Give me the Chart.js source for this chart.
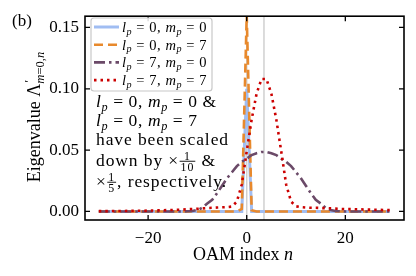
<!DOCTYPE html>
<html>
<head>
<meta charset="utf-8">
<script src="https://cdn.jsdelivr.net/npm/chart.js@4.4.0/dist/chart.umd.min.js"></script>
<style>
    html, body { margin: 0; padding: 0; background: #fff; }
</style>
</head>
<body>
<canvas id="chartId" width="416" height="276"></canvas>
<script>
// OAM index n
const oamIndex = [
    -30, -29, -28, -27, -26, -25, -24, -23, -22, -21,
    -20, -19, -18, -17, -16, -15, -14, -13, -12, -11,
    -10, -9, -8, -7, -6, -5, -4, -3, -2, -1,
    0, 1, 2, 3, 4, 5, 6, 7, 8, 9,
    10, 11, 12, 13, 14, 15, 16, 17, 18, 19,
    20, 21, 22, 23, 24, 25, 26, 27, 28, 29
];

// l_p = 0, m_p = 0 (scaled by 1/10)
const l0m0 = [
    0, 0, 0, 0, 0, 0, 0, 0, 0, 0,
    0, 0, 0, 0, 0, 0, 0, 0, 0, 0,
    0, 0, 0, 0, 0, 0, 0, 0, 0, 0,
    0.100, 0, 0, 0, 0, 0, 0, 0, 0, 0,
    0, 0, 0, 0, 0, 0, 0, 0, 0, 0,
    0, 0, 0, 0, 0, 0, 0, 0, 0, 0
];

// l_p = 0, m_p = 7 (scaled by 1/5)
const l0m7 = [
    0, 0, 0, 0, 0, 0, 0, 0, 0, 0,
    0, 0, 0, 0, 0, 0, 0, 0, 0, 0,
    0, 0, 0, 0, 0, 0, 0, 0, 0, 0.002,
    0.160, 0.001, 0, 0, 0, 0, 0, 0, 0, 0,
    0, 0, 0, 0, 0, 0, 0, 0, 0, 0,
    0, 0, 0, 0, 0, 0, 0, 0, 0, 0
];

// l_p = 7, m_p = 0
const l7m0 = [
    0, 0, 0, 0, 0, 0, 0, 0, 0, 0,
    0, 0, 0, 0, 0, 0, 0, 0, 0.0002, 0.0004,
    0.0012, 0.003, 0.0065, 0.0095, 0.015, 0.021, 0.027, 0.032, 0.037, 0.0405,
    0.043, 0.046, 0.0475, 0.0485, 0.0485, 0.0475, 0.046, 0.043, 0.0405, 0.037,
    0.032, 0.027, 0.021, 0.015, 0.0095, 0.0065, 0.003, 0.0012, 0.0004, 0.0002,
    0, 0, 0, 0, 0, 0, 0, 0, 0, 0
];

// l_p = 7, m_p = 7
const l7m7 = [
    0.0003, 0.0003, 0.0003, 0.0004, 0.0004, 0.0004, 0.0005, 0.0005, 0.0006, 0.0006,
    0.0007, 0.0008, 0.0009, 0.001, 0.0011, 0.0012, 0.0014, 0.0016, 0.0018, 0.002,
    0.0022, 0.0025, 0.0028, 0.003, 0.0032, 0.0034, 0.0035, 0.004, 0.008, 0.022,
    0.049, 0.075, 0.096, 0.108, 0.108, 0.096, 0.075, 0.049, 0.022, 0.008,
    0.0042, 0.0035, 0.0032, 0.003, 0.003, 0.0028, 0.0027, 0.0025, 0.0023, 0.0021,
    0.002, 0.0019, 0.0018, 0.0017, 0.0016, 0.0015, 0.0014, 0.0013, 0.0012, 0.0011
];

const xTicks = [-20, 0, 20];
const yTicks = [0, 0.05, 0.10, 0.15];
const markerLines = [0, 3.5];

const SERIF = '"Liberation Serif", "DejaVu Serif", serif';

const seriesStyles = [
    { data: l0m0, color: '#a0bdf2', width: 3, dash: [] },
    { data: l0m7, color: '#e8892c', width: 2.6, dash: [9, 5] },
    { data: l7m0, color: '#6b4a68', width: 2.6, dash: [11, 4, 2.5, 4] },
    { data: l7m7, color: '#cc0000', width: 2.6, dash: [2.5, 4] }
];

// Draw a run of text with italic letters, subscripts and small fractions
function drawRich(ctx, parts, x, y, size, spacing) {
    let cx = x;
    ctx.letterSpacing = (spacing || 0) + 'px';
    for (const [t, k] of parts) {
        if (k === 'frac') {
            const [num, den] = t.split('/');
            const fs = size * 0.68;
            ctx.font = `${fs}px ${SERIF}`;
            const w = Math.max(ctx.measureText(num).width, ctx.measureText(den).width) + 2;
            const axis = y - size * 0.27;
            ctx.textAlign = 'center';
            ctx.fillText(num, cx + w / 2 + 0.5, axis - 1.5);
            ctx.fillText(den, cx + w / 2 + 0.5, axis + fs * 0.72 + 1);
            ctx.fillRect(cx + 0.5, axis - 0.5, w, 0.9);
            ctx.textAlign = 'left';
            cx += w + 1.5;
        } else if (k === 'sup') {
            ctx.font = `${size * 0.75}px ${SERIF}`;
            ctx.fillText(t, cx + 1, y - size * 0.38);
        } else {
            const sub = k === 'sub' || k === 'subr';
            const italic = k === 'i' || k === 'sub';
            const fs = sub ? size * 0.7 : size;
            ctx.font = `${italic ? 'italic ' : ''}${fs}px ${SERIF}`;
            ctx.fillText(t, cx, sub ? y + size * 0.2 : y);
            cx += ctx.measureText(t).width;
        }
    }
    ctx.letterSpacing = '0px';
    return cx - x;
}

function lpmp(l, m, tail) {
    return [['l', 'i'], ['p', 'sub'], [' = ' + l + ', ', 'r'], ['m', 'i'], ['p', 'sub'], [' = ' + m + (tail || ''), 'r']];
}

const decorPlugin = {
    id: 'decor',
    beforeDatasetsDraw(chart) {
        const { ctx, chartArea: a, scales: { x } } = chart;
        ctx.save();
        ctx.strokeStyle = '#d0d0d0';
        ctx.lineWidth = 1.5;
        markerLines.forEach(v => {
            const px = x.getPixelForValue(v);
            ctx.beginPath();
            ctx.moveTo(px, a.top);
            ctx.lineTo(px, a.bottom);
            ctx.stroke();
        });
        ctx.restore();
    },
    afterDraw(chart) {
        const { ctx, chartArea: a, scales: { x, y } } = chart;
        ctx.save();

        // frame and inward ticks
        ctx.strokeStyle = '#000';
        ctx.lineWidth = 1.6;
        ctx.strokeRect(a.left, a.top, a.right - a.left, a.bottom - a.top);
        ctx.lineWidth = 1.3;
        ctx.beginPath();
        xTicks.forEach(v => {
            const px = x.getPixelForValue(v);
            ctx.moveTo(px, a.bottom); ctx.lineTo(px, a.bottom - 5);
            ctx.moveTo(px, a.top); ctx.lineTo(px, a.top + 5);
        });
        yTicks.forEach(v => {
            const py = y.getPixelForValue(v);
            ctx.moveTo(a.left, py); ctx.lineTo(a.left + 5, py);
            ctx.moveTo(a.right, py); ctx.lineTo(a.right - 5, py);
        });
        ctx.stroke();

        ctx.fillStyle = '#000';
        ctx.textBaseline = 'alphabetic';
        ctx.textAlign = 'left';

        // panel tag
        ctx.font = `17px ${SERIF}`;
        ctx.fillText('(b)', 12, 26);

        // x-axis title
        const xt = [['OAM index ', 'r'], ['n', 'i']];
        ctx.globalAlpha = 0;
        const xw = drawRich(ctx, xt, 0, 0, 18);
        ctx.globalAlpha = 1;
        drawRich(ctx, xt, 243 - xw / 2, 260, 18);

        // y-axis title
        const yt = [['Eigenvalue Λ', 'r'], ['′', 'sup'], ['m', 'sub'], ['=0,', 'subr'], ['n', 'sub']];
        ctx.globalAlpha = 0;
        const yw = drawRich(ctx, yt, 0, 0, 18);
        ctx.globalAlpha = 1;
        ctx.save();
        ctx.translate(40, 117);
        ctx.rotate(-Math.PI / 2);
        drawRich(ctx, yt, -yw / 2, 0, 18);
        ctx.restore();

        // legend box
        const lx = 91, ly = 18, lw = 121, lh = 73;
        ctx.fillStyle = 'rgba(255,255,255,0.85)';
        ctx.strokeStyle = '#c8c8c8';
        ctx.lineWidth = 1.2;
        ctx.beginPath();
        ctx.roundRect(lx, ly, lw, lh, 3);
        ctx.fill();
        ctx.stroke();
        const labels = [lpmp(0, 0), lpmp(0, 7), lpmp(7, 0), lpmp(7, 7)];
        labels.forEach((parts, i) => {
            const rowY = 27 + i * 17.7;
            const s = seriesStyles[i];
            ctx.strokeStyle = s.color;
            ctx.lineWidth = s.width;
            ctx.setLineDash(s.dash);
            ctx.beginPath();
            ctx.moveTo(94, rowY);
            ctx.lineTo(119, rowY);
            ctx.stroke();
            ctx.setLineDash([]);
            ctx.fillStyle = '#000';
            drawRich(ctx, parts, 122, rowY + 4.8, 14.5, 0.55);
        });

        // note about scaling
        ctx.fillStyle = '#000';
        const note = [
            lpmp(0, 0, ' &'),
            lpmp(0, 7),
            [['have been scaled', 'r']],
            [['down by ×', 'r'], ['1/10', 'frac'], [' &', 'r']],
            [['×', 'r'], ['1/5', 'frac'], [', respectively.', 'r']]
        ];
        const noteY = [107, 126, 145, 166, 187];
        note.forEach((parts, i) => drawRich(ctx, parts, 96, noteY[i], 17.5, i < 2 ? 0.6 : 0.9));

        ctx.restore();
    }
};

const tickFont = { family: SERIF, size: 17 };

new Chart(document.getElementById('chartId').getContext('2d'), {
    type: 'line',
    data: {
        datasets: seriesStyles.map((s, i) => ({
            data: oamIndex.map((n, k) => ({ x: n, y: s.data[k] })),
            borderColor: s.color,
            borderWidth: s.width,
            borderDash: s.dash,
            pointRadius: 0,
            tension: 0,
            fill: false,
            order: 3 - i
        }))
    },
    options: {
        responsive: false,
        animation: false,
        events: [],
        layout: { padding: { top: 12, right: 12, left: 0, bottom: 0 } },
        plugins: {
            legend: { display: false },
            tooltip: { enabled: false }
        },
        scales: {
            x: {
                type: 'linear',
                min: -32.8,
                max: 31.9,
                grid: { display: false, drawTicks: false },
                border: { display: false },
                afterFit: scale => { scale.height = 56; },
                afterBuildTicks: scale => { scale.ticks = xTicks.map(v => ({ value: v })); },
                ticks: {
                    font: tickFont,
                    color: '#000',
                    padding: 8,
                    maxRotation: 0,
                    autoSkip: false,
                    callback: v => (v < 0 ? '\u2212' + Math.abs(v) : String(v))
                }
            },
            y: {
                type: 'linear',
                min: -0.00695,
                max: 0.15918,
                grid: { display: false, drawTicks: false },
                border: { display: false },
                afterFit: scale => { scale.width = 85; },
                afterBuildTicks: scale => { scale.ticks = yTicks.map(v => ({ value: v })); },
                ticks: {
                    font: tickFont,
                    color: '#000',
                    padding: 6,
                    callback: v => v.toFixed(2)
                }
            }
        }
    },
    plugins: [decorPlugin]
});
</script>
</body>
</html>
